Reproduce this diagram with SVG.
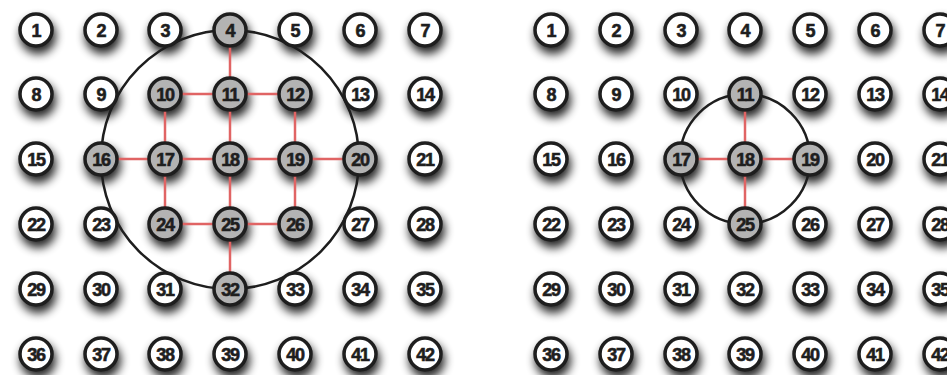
<svg xmlns="http://www.w3.org/2000/svg" width="947" height="375" viewBox="0 0 947 375">
<defs>
<filter id="sh" x="-100%" y="-100%" width="300%" height="300%">
<feGaussianBlur stdDeviation="5"/>
</filter>
<style>
.s{fill:#000;opacity:0.85;filter:url(#sh)}
.n circle{fill:#fff;stroke:#1e1e1e;stroke-width:3.5}
.g circle{fill:#b3b3b3}
.n text{font-family:"Liberation Sans",Arial,sans-serif;font-weight:bold;font-size:18px;fill:#1e1e1e;stroke:#1e1e1e;stroke-width:0.6;text-anchor:middle;letter-spacing:-1.2px}
.r line{stroke:#e06464;stroke-width:2.5}
.ring{fill:none;stroke:#1e1e1e;stroke-width:2.5}
</style>
</defs>
<rect width="947" height="375" fill="#fff"/>
<g id="shadows">
<g transform="translate(2,6)">
<circle class="s" cx="36" cy="30" r="18"/><circle class="s" cx="101" cy="30" r="18"/><circle class="s" cx="165" cy="30" r="18"/><circle class="s" cx="230" cy="30" r="18"/><circle class="s" cx="295" cy="30" r="18"/><circle class="s" cx="360" cy="30" r="18"/><circle class="s" cx="425" cy="30" r="18"/>
<circle class="s" cx="36" cy="94" r="18"/><circle class="s" cx="101" cy="94" r="18"/><circle class="s" cx="165" cy="94" r="18"/><circle class="s" cx="230" cy="94" r="18"/><circle class="s" cx="295" cy="94" r="18"/><circle class="s" cx="360" cy="94" r="18"/><circle class="s" cx="425" cy="94" r="18"/>
<circle class="s" cx="36" cy="159" r="18"/><circle class="s" cx="101" cy="159" r="18"/><circle class="s" cx="165" cy="159" r="18"/><circle class="s" cx="230" cy="159" r="18"/><circle class="s" cx="295" cy="159" r="18"/><circle class="s" cx="360" cy="159" r="18"/><circle class="s" cx="425" cy="159" r="18"/>
<circle class="s" cx="36" cy="224" r="18"/><circle class="s" cx="101" cy="224" r="18"/><circle class="s" cx="165" cy="224" r="18"/><circle class="s" cx="230" cy="224" r="18"/><circle class="s" cx="295" cy="224" r="18"/><circle class="s" cx="360" cy="224" r="18"/><circle class="s" cx="425" cy="224" r="18"/>
<circle class="s" cx="36" cy="289" r="18"/><circle class="s" cx="101" cy="289" r="18"/><circle class="s" cx="165" cy="289" r="18"/><circle class="s" cx="230" cy="289" r="18"/><circle class="s" cx="295" cy="289" r="18"/><circle class="s" cx="360" cy="289" r="18"/><circle class="s" cx="425" cy="289" r="18"/>
<circle class="s" cx="36" cy="354" r="18"/><circle class="s" cx="101" cy="354" r="18"/><circle class="s" cx="165" cy="354" r="18"/><circle class="s" cx="230" cy="354" r="18"/><circle class="s" cx="295" cy="354" r="18"/><circle class="s" cx="360" cy="354" r="18"/><circle class="s" cx="425" cy="354" r="18"/>
<circle class="s" cx="551" cy="30" r="18"/><circle class="s" cx="616" cy="30" r="18"/><circle class="s" cx="681" cy="30" r="18"/><circle class="s" cx="745" cy="30" r="18"/><circle class="s" cx="810" cy="30" r="18"/><circle class="s" cx="875" cy="30" r="18"/><circle class="s" cx="940" cy="30" r="18"/>
<circle class="s" cx="551" cy="94" r="18"/><circle class="s" cx="616" cy="94" r="18"/><circle class="s" cx="681" cy="94" r="18"/><circle class="s" cx="745" cy="94" r="18"/><circle class="s" cx="810" cy="94" r="18"/><circle class="s" cx="875" cy="94" r="18"/><circle class="s" cx="940" cy="94" r="18"/>
<circle class="s" cx="551" cy="159" r="18"/><circle class="s" cx="616" cy="159" r="18"/><circle class="s" cx="681" cy="159" r="18"/><circle class="s" cx="745" cy="159" r="18"/><circle class="s" cx="810" cy="159" r="18"/><circle class="s" cx="875" cy="159" r="18"/><circle class="s" cx="940" cy="159" r="18"/>
<circle class="s" cx="551" cy="224" r="18"/><circle class="s" cx="616" cy="224" r="18"/><circle class="s" cx="681" cy="224" r="18"/><circle class="s" cx="745" cy="224" r="18"/><circle class="s" cx="810" cy="224" r="18"/><circle class="s" cx="875" cy="224" r="18"/><circle class="s" cx="940" cy="224" r="18"/>
<circle class="s" cx="551" cy="289" r="18"/><circle class="s" cx="616" cy="289" r="18"/><circle class="s" cx="681" cy="289" r="18"/><circle class="s" cx="745" cy="289" r="18"/><circle class="s" cx="810" cy="289" r="18"/><circle class="s" cx="875" cy="289" r="18"/><circle class="s" cx="940" cy="289" r="18"/>
<circle class="s" cx="551" cy="354" r="18"/><circle class="s" cx="616" cy="354" r="18"/><circle class="s" cx="681" cy="354" r="18"/><circle class="s" cx="745" cy="354" r="18"/><circle class="s" cx="810" cy="354" r="18"/><circle class="s" cx="875" cy="354" r="18"/><circle class="s" cx="940" cy="354" r="18"/>
</g>
</g>
<g id="rings">
<ellipse class="ring" cx="230" cy="159.5" rx="129" ry="129.5"/>
<ellipse class="ring" cx="745" cy="159" rx="65" ry="65"/>
</g>
<g id="connectors" class="r">
<line x1="230" y1="30" x2="230" y2="94"/>
<line x1="165" y1="94" x2="295" y2="94"/>
<line x1="101" y1="159" x2="360" y2="159"/>
<line x1="165" y1="224" x2="295" y2="224"/>
<line x1="165" y1="94" x2="165" y2="224"/>
<line x1="230" y1="94" x2="230" y2="289"/>
<line x1="295" y1="94" x2="295" y2="224"/>
<line x1="745" y1="94" x2="745" y2="224"/>
<line x1="681" y1="159" x2="810" y2="159"/>
</g>
<g id="left-grid">
<g id="L1" class="n"><circle cx="36" cy="30" r="16"/><text x="36" y="36.5">1</text></g>
<g id="L2" class="n"><circle cx="101" cy="30" r="16"/><text x="101" y="36.5">2</text></g>
<g id="L3" class="n"><circle cx="165" cy="30" r="16"/><text x="165" y="36.5">3</text></g>
<g id="L4" class="n g"><circle cx="230" cy="30" r="16"/><text x="230" y="36.5">4</text></g>
<g id="L5" class="n"><circle cx="295" cy="30" r="16"/><text x="295" y="36.5">5</text></g>
<g id="L6" class="n"><circle cx="360" cy="30" r="16"/><text x="360" y="36.5">6</text></g>
<g id="L7" class="n"><circle cx="425" cy="30" r="16"/><text x="425" y="36.5">7</text></g>
<g id="L8" class="n"><circle cx="36" cy="94" r="16"/><text x="36" y="100.5">8</text></g>
<g id="L9" class="n"><circle cx="101" cy="94" r="16"/><text x="101" y="100.5">9</text></g>
<g id="L10" class="n g"><circle cx="165" cy="94" r="16"/><text x="165" y="100.5">10</text></g>
<g id="L11" class="n g"><circle cx="230" cy="94" r="16"/><text x="230" y="100.5">11</text></g>
<g id="L12" class="n g"><circle cx="295" cy="94" r="16"/><text x="295" y="100.5">12</text></g>
<g id="L13" class="n"><circle cx="360" cy="94" r="16"/><text x="360" y="100.5">13</text></g>
<g id="L14" class="n"><circle cx="425" cy="94" r="16"/><text x="425" y="100.5">14</text></g>
<g id="L15" class="n"><circle cx="36" cy="159" r="16"/><text x="36" y="165.5">15</text></g>
<g id="L16" class="n g"><circle cx="101" cy="159" r="16"/><text x="101" y="165.5">16</text></g>
<g id="L17" class="n g"><circle cx="165" cy="159" r="16"/><text x="165" y="165.5">17</text></g>
<g id="L18" class="n g"><circle cx="230" cy="159" r="16"/><text x="230" y="165.5">18</text></g>
<g id="L19" class="n g"><circle cx="295" cy="159" r="16"/><text x="295" y="165.5">19</text></g>
<g id="L20" class="n g"><circle cx="360" cy="159" r="16"/><text x="360" y="165.5">20</text></g>
<g id="L21" class="n"><circle cx="425" cy="159" r="16"/><text x="425" y="165.5">21</text></g>
<g id="L22" class="n"><circle cx="36" cy="224" r="16"/><text x="36" y="230.5">22</text></g>
<g id="L23" class="n"><circle cx="101" cy="224" r="16"/><text x="101" y="230.5">23</text></g>
<g id="L24" class="n g"><circle cx="165" cy="224" r="16"/><text x="165" y="230.5">24</text></g>
<g id="L25" class="n g"><circle cx="230" cy="224" r="16"/><text x="230" y="230.5">25</text></g>
<g id="L26" class="n g"><circle cx="295" cy="224" r="16"/><text x="295" y="230.5">26</text></g>
<g id="L27" class="n"><circle cx="360" cy="224" r="16"/><text x="360" y="230.5">27</text></g>
<g id="L28" class="n"><circle cx="425" cy="224" r="16"/><text x="425" y="230.5">28</text></g>
<g id="L29" class="n"><circle cx="36" cy="289" r="16"/><text x="36" y="295.5">29</text></g>
<g id="L30" class="n"><circle cx="101" cy="289" r="16"/><text x="101" y="295.5">30</text></g>
<g id="L31" class="n"><circle cx="165" cy="289" r="16"/><text x="165" y="295.5">31</text></g>
<g id="L32" class="n g"><circle cx="230" cy="289" r="16"/><text x="230" y="295.5">32</text></g>
<g id="L33" class="n"><circle cx="295" cy="289" r="16"/><text x="295" y="295.5">33</text></g>
<g id="L34" class="n"><circle cx="360" cy="289" r="16"/><text x="360" y="295.5">34</text></g>
<g id="L35" class="n"><circle cx="425" cy="289" r="16"/><text x="425" y="295.5">35</text></g>
<g id="L36" class="n"><circle cx="36" cy="354" r="16"/><text x="36" y="360.5">36</text></g>
<g id="L37" class="n"><circle cx="101" cy="354" r="16"/><text x="101" y="360.5">37</text></g>
<g id="L38" class="n"><circle cx="165" cy="354" r="16"/><text x="165" y="360.5">38</text></g>
<g id="L39" class="n"><circle cx="230" cy="354" r="16"/><text x="230" y="360.5">39</text></g>
<g id="L40" class="n"><circle cx="295" cy="354" r="16"/><text x="295" y="360.5">40</text></g>
<g id="L41" class="n"><circle cx="360" cy="354" r="16"/><text x="360" y="360.5">41</text></g>
<g id="L42" class="n"><circle cx="425" cy="354" r="16"/><text x="425" y="360.5">42</text></g>
</g>
<g id="right-grid">
<g id="R1" class="n"><circle cx="551" cy="30" r="16"/><text x="551" y="36.5">1</text></g>
<g id="R2" class="n"><circle cx="616" cy="30" r="16"/><text x="616" y="36.5">2</text></g>
<g id="R3" class="n"><circle cx="681" cy="30" r="16"/><text x="681" y="36.5">3</text></g>
<g id="R4" class="n"><circle cx="745" cy="30" r="16"/><text x="745" y="36.5">4</text></g>
<g id="R5" class="n"><circle cx="810" cy="30" r="16"/><text x="810" y="36.5">5</text></g>
<g id="R6" class="n"><circle cx="875" cy="30" r="16"/><text x="875" y="36.5">6</text></g>
<g id="R7" class="n"><circle cx="940" cy="30" r="16"/><text x="940" y="36.5">7</text></g>
<g id="R8" class="n"><circle cx="551" cy="94" r="16"/><text x="551" y="100.5">8</text></g>
<g id="R9" class="n"><circle cx="616" cy="94" r="16"/><text x="616" y="100.5">9</text></g>
<g id="R10" class="n"><circle cx="681" cy="94" r="16"/><text x="681" y="100.5">10</text></g>
<g id="R11" class="n g"><circle cx="745" cy="94" r="16"/><text x="745" y="100.5">11</text></g>
<g id="R12" class="n"><circle cx="810" cy="94" r="16"/><text x="810" y="100.5">12</text></g>
<g id="R13" class="n"><circle cx="875" cy="94" r="16"/><text x="875" y="100.5">13</text></g>
<g id="R14" class="n"><circle cx="940" cy="94" r="16"/><text x="940" y="100.5">14</text></g>
<g id="R15" class="n"><circle cx="551" cy="159" r="16"/><text x="551" y="165.5">15</text></g>
<g id="R16" class="n"><circle cx="616" cy="159" r="16"/><text x="616" y="165.5">16</text></g>
<g id="R17" class="n g"><circle cx="681" cy="159" r="16"/><text x="681" y="165.5">17</text></g>
<g id="R18" class="n g"><circle cx="745" cy="159" r="16"/><text x="745" y="165.5">18</text></g>
<g id="R19" class="n g"><circle cx="810" cy="159" r="16"/><text x="810" y="165.5">19</text></g>
<g id="R20" class="n"><circle cx="875" cy="159" r="16"/><text x="875" y="165.5">20</text></g>
<g id="R21" class="n"><circle cx="940" cy="159" r="16"/><text x="940" y="165.5">21</text></g>
<g id="R22" class="n"><circle cx="551" cy="224" r="16"/><text x="551" y="230.5">22</text></g>
<g id="R23" class="n"><circle cx="616" cy="224" r="16"/><text x="616" y="230.5">23</text></g>
<g id="R24" class="n"><circle cx="681" cy="224" r="16"/><text x="681" y="230.5">24</text></g>
<g id="R25" class="n g"><circle cx="745" cy="224" r="16"/><text x="745" y="230.5">25</text></g>
<g id="R26" class="n"><circle cx="810" cy="224" r="16"/><text x="810" y="230.5">26</text></g>
<g id="R27" class="n"><circle cx="875" cy="224" r="16"/><text x="875" y="230.5">27</text></g>
<g id="R28" class="n"><circle cx="940" cy="224" r="16"/><text x="940" y="230.5">28</text></g>
<g id="R29" class="n"><circle cx="551" cy="289" r="16"/><text x="551" y="295.5">29</text></g>
<g id="R30" class="n"><circle cx="616" cy="289" r="16"/><text x="616" y="295.5">30</text></g>
<g id="R31" class="n"><circle cx="681" cy="289" r="16"/><text x="681" y="295.5">31</text></g>
<g id="R32" class="n"><circle cx="745" cy="289" r="16"/><text x="745" y="295.5">32</text></g>
<g id="R33" class="n"><circle cx="810" cy="289" r="16"/><text x="810" y="295.5">33</text></g>
<g id="R34" class="n"><circle cx="875" cy="289" r="16"/><text x="875" y="295.5">34</text></g>
<g id="R35" class="n"><circle cx="940" cy="289" r="16"/><text x="940" y="295.5">35</text></g>
<g id="R36" class="n"><circle cx="551" cy="354" r="16"/><text x="551" y="360.5">36</text></g>
<g id="R37" class="n"><circle cx="616" cy="354" r="16"/><text x="616" y="360.5">37</text></g>
<g id="R38" class="n"><circle cx="681" cy="354" r="16"/><text x="681" y="360.5">38</text></g>
<g id="R39" class="n"><circle cx="745" cy="354" r="16"/><text x="745" y="360.5">39</text></g>
<g id="R40" class="n"><circle cx="810" cy="354" r="16"/><text x="810" y="360.5">40</text></g>
<g id="R41" class="n"><circle cx="875" cy="354" r="16"/><text x="875" y="360.5">41</text></g>
<g id="R42" class="n"><circle cx="940" cy="354" r="16"/><text x="940" y="360.5">42</text></g>
</g>
</svg>
